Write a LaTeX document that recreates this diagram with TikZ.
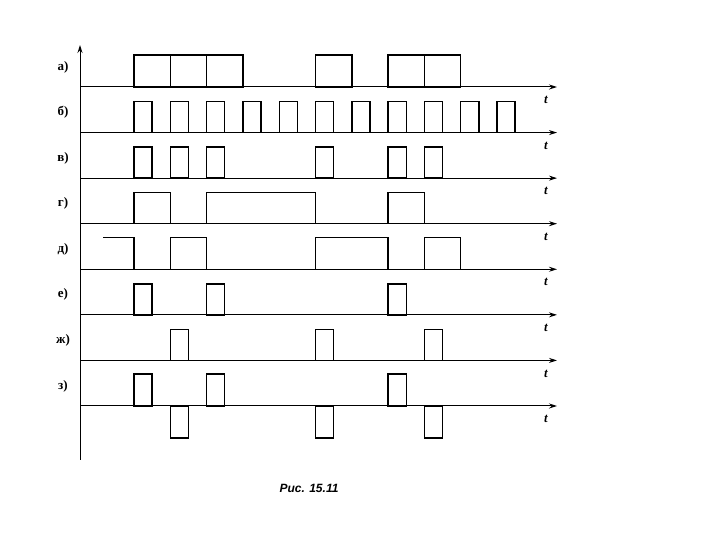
\documentclass[tikz,border=0pt]{standalone}
\usepackage{fontspec}
\setmainfont{Liberation Serif}
\newfontfamily\capfont{Liberation Sans}
\usetikzlibrary{arrows.meta}

\begin{document}
\begin{tikzpicture}[x=10pt, y=10pt, font=\fontsize{13}{15}\selectfont\bfseries,
  sig/.style={line width=1.4pt},
  taxis/.style={line width=1pt, -{Stealth[length=8pt, width=5pt]}}]
\useasboundingbox (0,0) rectangle (72,54);
% axes and row labels
\draw[taxis] (8,8) -- (8,49.5);
\foreach \lab [count=\i from 0] in {а,б,в,г,д,е,ж,з}{
  \pgfmathsetmacro{\yb}{45.3-4.557*\i}
  \draw[taxis] (8,\yb) -- (55.7,\yb);
  \node (lab\i) at (6.3,\yb+2.0) {\lab)};
  \node (t\i) at (54.6,\yb-1.3) {\textit{t}};
}
% a)
\begin{scope}[shift={(13.4,45.3)}, x=36.3pt]
\foreach \k in {0,1,2,5,7,8} \draw[sig] (\k,0) rectangle (\k+1,3.2);
\end{scope}
% b) clock
\begin{scope}[shift={(13.4,40.743)}, x=36.3pt]
\foreach \k in {0,...,10} \draw[sig] (\k,0) rectangle (\k+0.5,3.1);
\end{scope}
% v)
\begin{scope}[shift={(13.4,36.186)}, x=36.3pt]
\foreach \k in {0,1,2,5,7,8} \draw[sig] (\k,0) rectangle (\k+0.5,3.1);
\end{scope}
% g)
\begin{scope}[shift={(13.4,31.629)}, x=36.3pt]
\foreach \a/\b in {0/1,2/5,7/8} \draw[sig] (\a,0) rectangle (\b,3.1);
\end{scope}
% d)
\begin{scope}[shift={(13.4,27.072)}, x=36.3pt]
\draw[sig] (-0.85,3.2) -- (0,3.2) -- (0,0);
\foreach \a/\b in {1/2,5/7,8/9} \draw[sig] (\a,0) rectangle (\b,3.2);
\end{scope}
% e)
\begin{scope}[shift={(13.4,22.515)}, x=36.3pt]
\foreach \k in {0,2,7} \draw[sig] (\k,0) rectangle (\k+0.5,3.1);
\end{scope}
% zh)
\begin{scope}[shift={(13.4,17.958)}, x=36.3pt]
\foreach \k in {1,5,8} \draw[sig] (\k,0) rectangle (\k+0.5,3.1);
\end{scope}
% z)
\begin{scope}[shift={(13.4,13.401)}, x=36.3pt]
\foreach \k in {0,2,7} \draw[sig] (\k,0) rectangle (\k+0.5,3.2);
\foreach \k in {1,5,8} \draw[sig] (\k,0) rectangle (\k+0.5,-3.2);
\end{scope}
\node[font=\capfont\bfseries\itshape\fontsize{12}{14}\selectfont] (cap) at (30.9,5.2) {Рис. 15.11};
\end{tikzpicture}
\end{document}
